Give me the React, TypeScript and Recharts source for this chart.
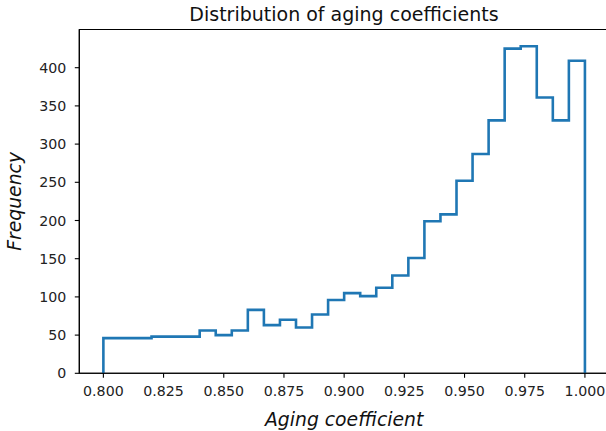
import React from "react"
import { ComposedChart, Line, XAxis, YAxis, ReferenceArea } from "recharts"

// histogram of aging coefficients, 30 bins between 0.8 and 1.0 (step outline)
const BIN_MIN = 0.8
const BIN_MAX = 1.0
const COUNTS = [
  46, 46, 46, 48, 48, 48, 56, 50, 56, 83,
  63, 70, 60, 77, 96, 105, 101, 112, 128, 151,
  199, 208, 252, 287, 331, 425, 428, 361, 331, 409,
]
const X_TICKS = [0.8, 0.825, 0.85, 0.875, 0.9, 0.925, 0.95, 0.975, 1.0]
const Y_TICKS = [0, 50, 100, 150, 200, 250, 300, 350, 400]

const X_DOMAIN = [0.79, 1.01]
const Y_DOMAIN = [0, 450]

const binWidth = (BIN_MAX - BIN_MIN) / COUNTS.length
const stepData = [
  { x: BIN_MIN, y: 0 },
  ...COUNTS.map((c, i) => ({ x: BIN_MIN + i * binWidth, y: c })),
  { x: BIN_MAX, y: COUNTS[COUNTS.length - 1] },
  { x: BIN_MAX, y: 0 },
]

const FONT = "'DejaVu Sans', sans-serif"
const tickStyle = { fontSize: 14.2, fill: "#222", fontFamily: FONT }
const labelStyle = { fontSize: 18.8, fontStyle: "italic", fontFamily: FONT, fill: "#111" }
const spine = { stroke: "#000", strokeWidth: 1.1 }

export default function App() {
  // plot area runs past the right edge of the picture, like the original figure
  return (
    <div style={{ position: "absolute", left: 0, top: 0, width: 606, height: 431, overflow: "hidden", background: "#fff" }}>
      <div
        style={{
          position: "absolute",
          left: 79,
          width: 530,
          top: 3,
          textAlign: "center",
          fontFamily: FONT,
          fontSize: 19,
          lineHeight: "22px",
          color: "#111",
          whiteSpace: "nowrap",
        }}
      >
        Distribution of aging coefficients
      </div>
      <ComposedChart width={610} height={431} data={stepData} margin={{ top: 29.5, right: 1, bottom: 0, left: 0 }}>
        <XAxis
          dataKey="x"
          type="number"
          domain={X_DOMAIN}
          ticks={X_TICKS}
          allowDataOverflow
          height={57.7}
          tickSize={4.5}
          tickMargin={8}
          tick={tickStyle}
          tickLine={spine}
          axisLine={spine}
          tickFormatter={(v: number) => v.toFixed(3)}
          label={{ value: "Aging coefficient", position: "insideBottom", offset: 5, style: labelStyle }}
        />
        <YAxis
          type="number"
          domain={Y_DOMAIN}
          ticks={Y_TICKS}
          allowDataOverflow
          width={79.3}
          tickSize={4.5}
          tickMargin={8.5}
          tick={tickStyle}
          tickLine={spine}
          axisLine={spine}
          label={{
            value: "Frequency",
            angle: -90,
            position: "insideLeft",
            offset: 14,
            style: { ...labelStyle, textAnchor: "middle" },
          }}
        />
        <ReferenceArea
          x1={X_DOMAIN[0]}
          x2={X_DOMAIN[1]}
          y1={Y_DOMAIN[0]}
          y2={Y_DOMAIN[1]}
          fill="none"
          stroke="#000"
          strokeWidth={1.1}
          ifOverflow="visible"
        />
        <Line
          type="stepAfter"
          dataKey="y"
          stroke="#1f77b4"
          strokeWidth={2.6}
          dot={false}
          activeDot={false}
          isAnimationActive={false}
        />
      </ComposedChart>
    </div>
  )
}
